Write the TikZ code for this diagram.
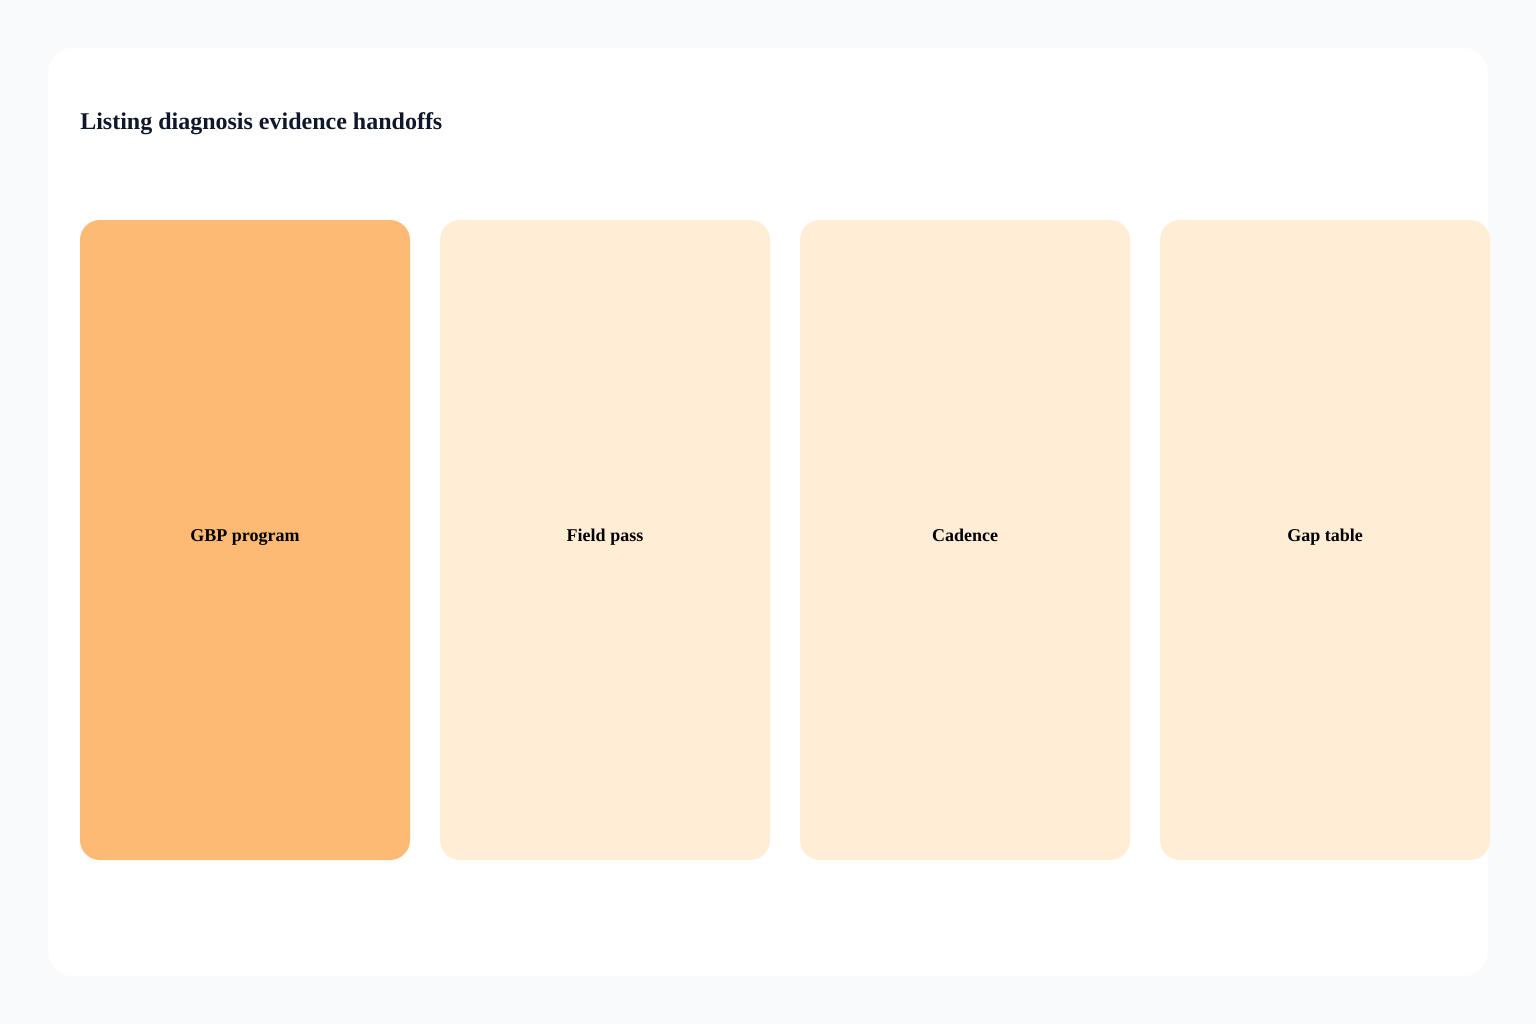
\documentclass[tikz,border=0pt]{standalone}
\usepackage{fontspec}
\setmainfont{Liberation Serif}
\usetikzlibrary{positioning}
\definecolor{pagebg}{HTML}{F8FAFC}
\definecolor{titleink}{HTML}{0F172A}
\definecolor{stageon}{HTML}{FDBA74}
\definecolor{stageoff}{HTML}{FFEDD5}
\begin{document}
\begin{tikzpicture}[x=0.75pt,y=-0.75pt]
\tikzstyle{stage} = [rounded corners=15pt,minimum width=247.5pt,minimum height=480pt,inner sep=0pt,outer sep=0pt,text height=9pt,text depth=7.5pt,font=\bfseries\fontsize{13.5}{16}\selectfont,text=black]

\fill[pagebg] (0,0) rectangle (1536,1024);
\fill[white,rounded corners=18pt] (48,48) rectangle (1488,976);
\node[anchor=base west,font=\bfseries\fontsize{18}{22}\selectfont,text=titleink,inner sep=0pt] (title) at (80,129) {Listing diagnosis evidence handoffs};

\node[stage,fill=stageon] (gbp) at (245,540) {GBP program};
\node[stage,fill=stageoff,right=22.5pt of gbp] (field) {Field pass};
\node[stage,fill=stageoff,right=22.5pt of field] (cadence) {Cadence};
\node[stage,fill=stageoff,right=22.5pt of cadence] (gap) {Gap table};
\end{tikzpicture}
\end{document}
